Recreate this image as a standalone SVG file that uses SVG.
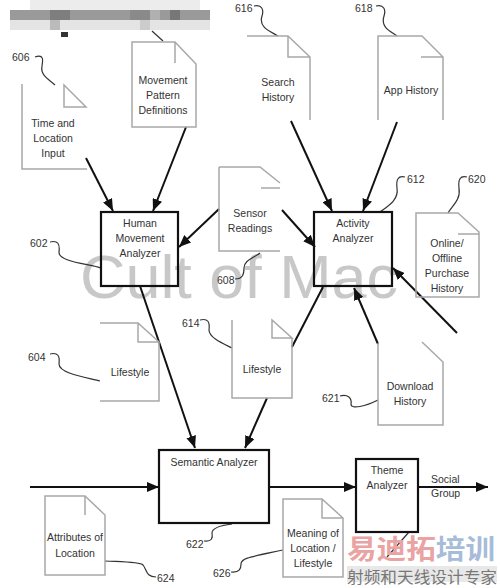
<svg xmlns="http://www.w3.org/2000/svg" width="500" height="588" viewBox="0 0 500 588">
<defs>
<style>
.doc{fill:none;stroke:#a8a8a8;stroke-width:1.5}
.box{fill:none;stroke:#111;stroke-width:2.2}
.arr{fill:none;stroke:#111;stroke-width:2;marker-end:url(#ah)}
.ln{fill:none;stroke:#111;stroke-width:2}
.ld{fill:none;stroke:#333;stroke-width:1.2}
.t{font-family:"Liberation Sans",Arial,sans-serif;font-size:10.5px;fill:#333;text-anchor:middle}
.n{font-family:"Liberation Sans",Arial,sans-serif;font-size:10.5px;fill:#333}
</style>
<marker id="ah" markerUnits="userSpaceOnUse" markerWidth="12" markerHeight="10" refX="12" refY="5" orient="auto">
<path d="M0,0 L12,5 L0,10 z" fill="#111"/>
</marker>
</defs>
<rect width="500" height="588" fill="#fff"/>
<g id="watermark">
<text x="80" y="298" font-family="Liberation Sans,Arial,sans-serif" font-size="62" fill="#c8c8c8" textLength="318" lengthAdjust="spacingAndGlyphs">Cult of Mac</text>
</g>
<g id="header-blur">
<rect x="30" y="0" width="170" height="10" fill="#ececec"/>
<rect x="10" y="10" width="200" height="10" fill="#9a9a9a"/>
<rect x="50" y="10" width="20" height="10" fill="#7e7e7e"/>
<rect x="130" y="10" width="20" height="10" fill="#8a8a8a"/>
<rect x="170" y="10" width="10" height="10" fill="#777"/>
<rect x="150" y="10" width="10" height="10" fill="#b0b0b0"/>
<rect x="10" y="20" width="200" height="10" fill="#e4e4e4"/>
<rect x="50" y="20" width="10" height="10" fill="#bbb"/>
<rect x="140" y="20" width="10" height="10" fill="#ccc"/>
<rect x="61" y="32" width="7" height="5" fill="#333"/>
</g>
<g id="connectors">
<path class="arr" d="M86,158 L113,211"/>
<path class="arr" d="M186,127 L153,211"/>
<path class="arr" d="M219,209 L179,247"/>
<path class="arr" d="M282,210 L315,247"/>
<path class="arr" d="M291,121 L332,211"/>
<path class="arr" d="M397,122 L363,211"/>
<path class="arr" d="M457,333 L393,268"/>
<path class="arr" d="M378,344 L354,288"/>
<path class="ln" d="M292,347 L323,287"/>
<path class="arr" d="M140,286 L195,448"/>
<path class="arr" d="M267,398 L245,448"/>
<path class="arr" d="M30,487 L159,487"/>
<path class="arr" d="M269,487 L356,487"/>
<path class="arr" d="M418,487 L488,487"/>
</g>
<g id="leaders">
<path class="ld" d="M35,57 C44,54 43,60 42,66 C40,76 50,80 55,85"/>
<path class="ld" d="M163,41 L152,31"/>
<path class="ld" d="M254,6 C262,4 264,10 262,16 C258,28 272,32 278,36"/>
<path class="ld" d="M376,6 C384,4 386,10 384,16 C380,28 392,32 397,36"/>
<path class="ld" d="M50,242 C58,240 60,244 59,252 C58,262 90,264 101,268"/>
<path class="ld" d="M235,279 C243,279 244,274 244,268 C244,260 254,258 260,253"/>
<path class="ld" d="M405,177 C398,175 396,180 397,188 C399,200 388,206 380,212"/>
<path class="ld" d="M467,177 C460,175 458,180 459,188 C461,200 452,206 448,213"/>
<path class="ld" d="M50,354 C58,352 60,356 59,364 C59,374 90,378 100,381"/>
<path class="ld" d="M200,320 C208,318 210,322 209,330 C209,338 224,344 232,348"/>
<path class="ld" d="M340,396 C348,394 352,398 351,404 C351,410 366,406 378,400"/>
<path class="ld" d="M204,541 C212,542 213,538 212,533 C212,527 224,525 232,524"/>
<path class="ld" d="M105,561 C125,562 140,562 143,565 C147,570 146,577 156,577"/>
<path class="ld" d="M231,572 C240,573 241,568 241,564 C241,558 250,557 283,550"/>
<path class="ld" d="M409,532 L387,557"/>
</g>
<g id="n606">
<path class="doc" d="M22,84 L22,169 L87,169 M64,85 L64,107 L86,107 Z"/>
<text class="t" x="53" y="127">Time and</text>
<text class="t" x="53" y="142">Location</text>
<text class="t" x="53" y="157">Input</text>
<text class="n" x="12" y="61">606</text>
</g>
<g id="n-mpd">
<path class="doc" d="M132,42 L175,42 L196,64 L196,127 L132,127 Z M175,42 L175,63"/>
<text class="t" x="163" y="84">Movement</text>
<text class="t" x="163" y="99">Pattern</text>
<text class="t" x="163" y="114">Definitions</text>
</g>
<g id="n616">
<path class="doc" d="M247,36 L288,36 L310,57 L310,120 M288,36 L288,57 L310,57"/>
<text class="t" x="278" y="86">Search</text>
<text class="t" x="278" y="101">History</text>
<text class="n" x="235" y="12">616</text>
</g>
<g id="n618">
<path class="doc" d="M378,120 L378,36 L422,36 L443,57 L443,120 M421,57 L443,57"/>
<text class="t" x="411" y="94">App History</text>
<text class="n" x="355" y="12">618</text>
</g>
<g id="n602">
<rect class="box" x="101" y="212" width="77" height="74"/>
<text class="t" x="140" y="227">Human</text>
<text class="t" x="140" y="242">Movement</text>
<text class="t" x="140" y="257">Analyzer</text>
<text class="n" x="30" y="247">602</text>
</g>
<g id="n608">
<path class="doc" d="M219,167 L260,167 L280,183 M261,188 L280,188 M219,167 L219,251 L280,251"/>
<text class="t" x="250" y="217">Sensor</text>
<text class="t" x="250" y="232">Readings</text>
<text class="n" x="217" y="284">608</text>
</g>
<g id="n612">
<rect class="box" x="314" y="212" width="78" height="74"/>
<text class="t" x="353" y="227">Activity</text>
<text class="t" x="353" y="242">Analyzer</text>
<text class="n" x="407" y="183">612</text>
</g>
<g id="n620">
<path class="doc" d="M416,213 L458,213 L479,232 L479,297 L416,297 Z M458,234 L479,234"/>
<text class="t" x="447" y="247">Online/</text>
<text class="t" x="447" y="262">Offline</text>
<text class="t" x="447" y="277">Purchase</text>
<text class="t" x="447" y="292">History</text>
<text class="n" x="468" y="183">620</text>
</g>
<g id="n604">
<path class="doc" d="M100,323 L138,323 L159,342 L159,401 L100,401 M138,323 L138,342 L159,342"/>
<text class="t" x="130" y="376">Lifestyle</text>
<text class="n" x="28" y="361">604</text>
</g>
<g id="n614">
<path class="doc" d="M232,320 L232,398 L292,398 L292,338 M272,320 L272,338 L292,338 Z"/>
<text class="t" x="262" y="373">Lifestyle</text>
<text class="n" x="182" y="327">614</text>
</g>
<g id="n621">
<path class="doc" d="M378,343 L378,425 L443,425 L443,362 L422,342"/>
<text class="t" x="410" y="390">Download</text>
<text class="t" x="410" y="405">History</text>
<text class="n" x="322" y="402">621</text>
</g>
<g id="n622">
<rect class="box" x="159" y="450" width="110" height="73"/>
<text class="t" x="214" y="466">Semantic Analyzer</text>
<text class="n" x="186" y="548">622</text>
</g>
<g id="n-theme">
<rect class="box" x="356" y="459" width="62" height="73"/>
<text class="t" x="387" y="474">Theme</text>
<text class="t" x="387" y="489">Analyzer</text>
<text class="n" x="431" y="483">Social</text>
<text class="n" x="431" y="497">Group</text>
</g>
<g id="n624">
<path class="doc" d="M45,496 L85,496 L105,515 L105,575 L45,575 Z M85,496 L85,515"/>
<text class="t" x="75" y="541">Attributes of</text>
<text class="t" x="75" y="557">Location</text>
<text class="n" x="157" y="582">624</text>
</g>
<g id="n626">
<path class="doc" d="M283,499 L322,499 L343,518 L343,577 L283,577 Z M322,499 L322,518 L343,518"/>
<text class="t" x="313" y="537">Meaning of</text>
<text class="t" x="313" y="552">Location /</text>
<text class="t" x="313" y="567">Lifestyle</text>
<text class="n" x="213" y="577">626</text>
</g>
<g id="cn-watermark">
<rect x="347" y="566" width="150" height="16" fill="#d8d8d8" opacity="0.6"/>
<text x="347" y="559" font-family="Noto Sans CJK SC,sans-serif" font-size="27" font-weight="bold" textLength="148" lengthAdjust="spacingAndGlyphs"><tspan fill="#e9a3a3">易迪拓</tspan><tspan fill="#a7bcd9">培训</tspan></text>
<text x="347" y="583" font-family="Noto Sans CJK SC,sans-serif" font-size="16" fill="#777" textLength="150" lengthAdjust="spacingAndGlyphs">射频和天线设计专家</text>
</g>
</svg>
